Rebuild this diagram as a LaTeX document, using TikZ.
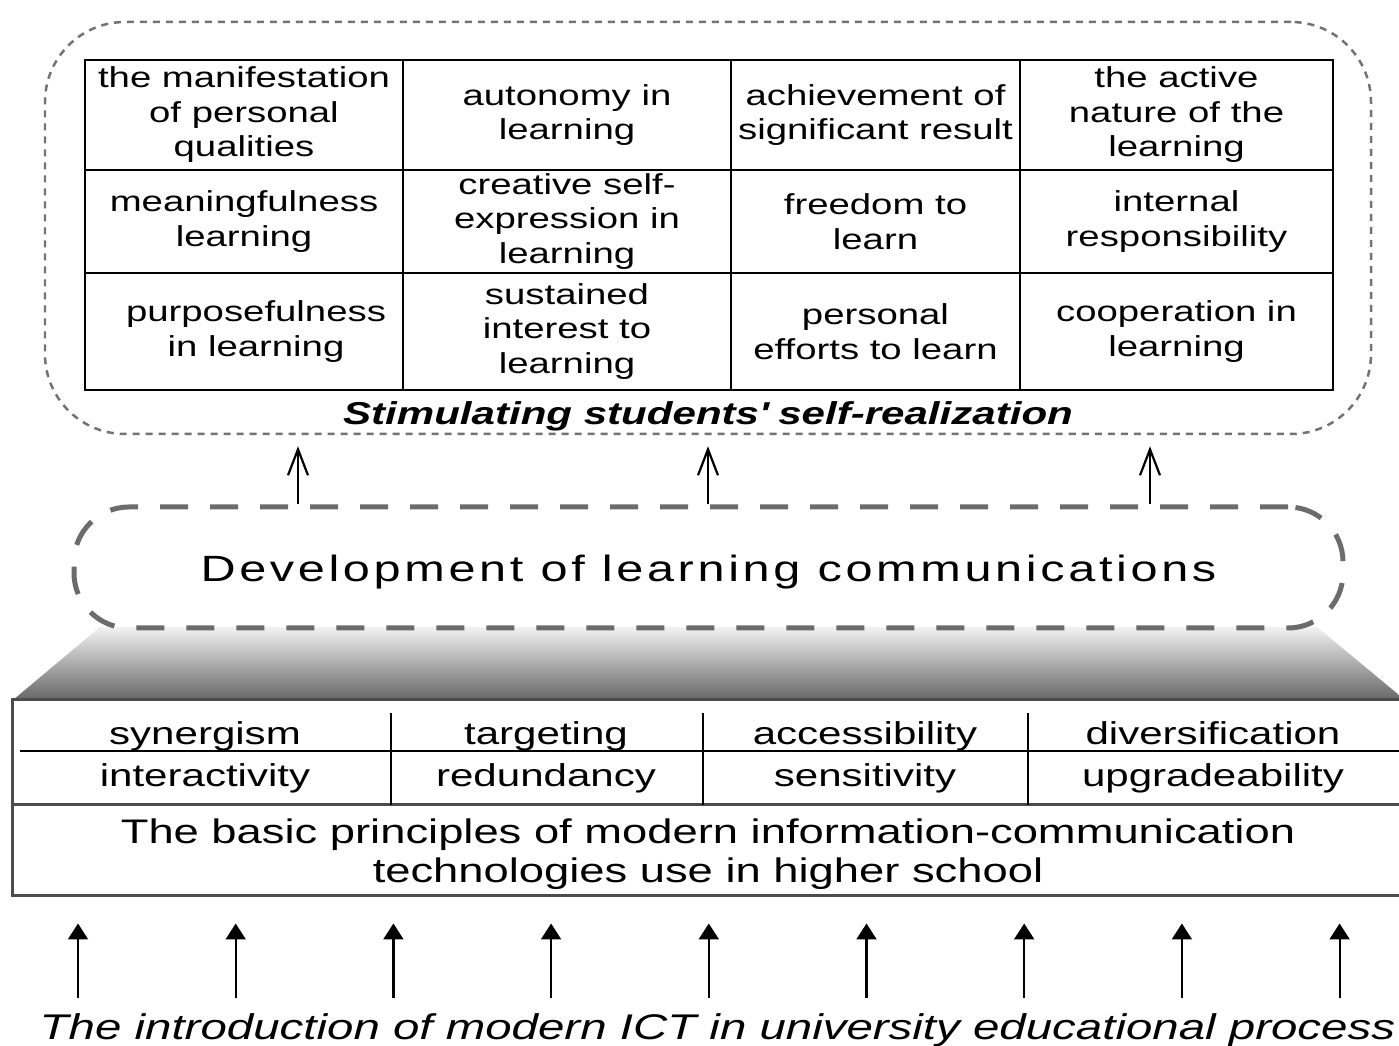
\documentclass[tikz,border=0pt]{standalone}
\usepackage{fontspec}
\setmainfont{Liberation Sans}[FakeStretch=1.33]
\newfontfamily\devfont{Liberation Sans}[FakeStretch=1.33,LetterSpace=10]
\usetikzlibrary{arrows.meta,positioning,calc}

\begin{document}
\begin{tikzpicture}[
  cell/.style={rectangle, draw, line width=0.022cm, inner sep=0pt, align=center, font=\fontsize{8.2}{9.8}\selectfont},
  w1/.style={minimum width=3.18cm}, w2/.style={minimum width=3.28cm},
  w3/.style={minimum width=2.89cm}, w4/.style={minimum width=3.13cm},
  h1/.style={minimum height=1.10cm}, h2/.style={minimum height=1.03cm}, h3/.style={minimum height=1.17cm},
  word/.style={inner sep=0pt, anchor=base, font=\fontsize{9}{10}\selectfont},
  topbox/.style={rectangle, draw=black!55, rounded corners=0.8cm, line width=0.025cm, dash pattern=on 0.07cm off 0.06cm},
  devbox/.style={rectangle, draw=black!58, rounded corners=0.55cm, line width=0.05cm, dash pattern=on 0.28cm off 0.22cm},
  barb/.style={-{Straight Barb[length=0.26cm,width=0.2cm]}, line width=0.022cm},
  tri/.style={-{Triangle[length=0.16cm,width=0.2cm]}, line width=0.022cm},
]
\useasboundingbox (0,0) rectangle (13.99,-10.46);

% === Self-realization table ===
\node[topbox, minimum width=13.26cm, minimum height=4.12cm] (top) at (7.08,-2.28) {};

\node[cell, w1, h1] (c11) at (2.44,-1.15) {the manifestation\\of personal\\qualities};
\node[cell, w2, h1] (c12) at (5.67,-1.15) {autonomy in\\learning};
\node[cell, w3, h1] (c13) at (8.755,-1.15) {achievement of\\significant result};
\node[cell, w4, h1] (c14) at (11.765,-1.15) {the active\\nature of the\\learning};

\node[cell, w1, h2] (c21) at (2.44,-2.215) {meaningfulness\\learning};
\node[cell, w2, h2] (c22) at (5.67,-2.215) {creative self-\\expression in\\learning};
\node[cell, w3, h2] (c23) at (8.755,-2.215) {freedom to\\learn};
\node[cell, w4, h2] (c24) at (11.765,-2.215) {internal\\responsibility};

\node[cell, w1, h3] (c31) at (2.44,-3.315) {\hspace*{0.24cm}purposefulness\\\hspace*{0.24cm}in learning};
\node[cell, w2, h3] (c32) at (5.67,-3.315) {sustained\\interest to\\learning};
\node[cell, w3, h3] (c33) at (8.755,-3.315) {personal\\efforts to learn};
\node[cell, w4, h3] (c34) at (11.765,-3.315) {cooperation in\\learning};

\node[inner sep=0pt, anchor=base, font=\fontsize{9}{10}\selectfont\bfseries\itshape] (stim) at (7.08,-4.25)
  {Stimulating students\textquotesingle{} self-realization};

% === Communications ===
\shade[top color=black!5, bottom color=black!60] (1.00,-6.27) -- (13.17,-6.27) -- (14.05,-7.00) -- (0.13,-7.00) -- cycle;
\node[devbox, minimum width=12.69cm, minimum height=1.21cm, text height=0.29cm, text depth=0cm,
  font=\devfont\fontsize{10.4}{12}\selectfont] (dev) at (7.085,-5.675) {Development of learning communications};

\foreach \x in {2.98,7.08,11.50}
  \draw[barb, shorten >=0.11cm] (dev.north -| \x,0) -- (top.south -| \x,0);

% === Principles ===
\node[draw=black!70, line width=0.03cm, minimum width=13.92cm, minimum height=1.96cm, inner sep=0pt] (prin) at (7.09,-7.98) {};
\draw[line width=0.025cm] (0.20,-7.51) -- (14.05,-7.51);
\draw[line width=0.03cm, black!70] (0.13,-8.05) -- (14.05,-8.05);
\foreach \x in {3.91,7.03,10.28}
  \draw[line width=0.022cm] (\x,-7.13) -- (\x,-8.05);

\node[word] (p11) at (2.05,-7.45) {synergism};
\node[word] (p12) at (5.46,-7.45) {targeting};
\node[word] (p13) at (8.65,-7.45) {accessibility};
\node[word] (p14) at (12.13,-7.45) {diversification};
\node[word] (p21) at (2.05,-7.87) {interactivity};
\node[word] (p22) at (5.46,-7.87) {redundancy};
\node[word] (p23) at (8.65,-7.87) {sensitivity};
\node[word] (p24) at (12.13,-7.87) {upgradeability};

\node[inner sep=0pt, align=center, font=\fontsize{9.7}{11.1}\selectfont] (basic) at (7.08,-8.54)
  {The basic principles of modern information-communication\\technologies use in higher school};

% === ICT ===
\node[inner sep=0pt, anchor=base, font=\fontsize{10.15}{12}\selectfont\itshape] (ict) at (7.175,-10.40)
  {The introduction of modern ICT in university educational process};
\coordinate (tail) at ($(ict.north)+(0,0.15)$);
\foreach \i in {0,...,8}
  \draw[tri, shorten >=0.26cm] (tail -| {0.78+1.577*\i},0) -- (prin.south -| {0.78+1.577*\i},0);

\end{tikzpicture}
\end{document}
